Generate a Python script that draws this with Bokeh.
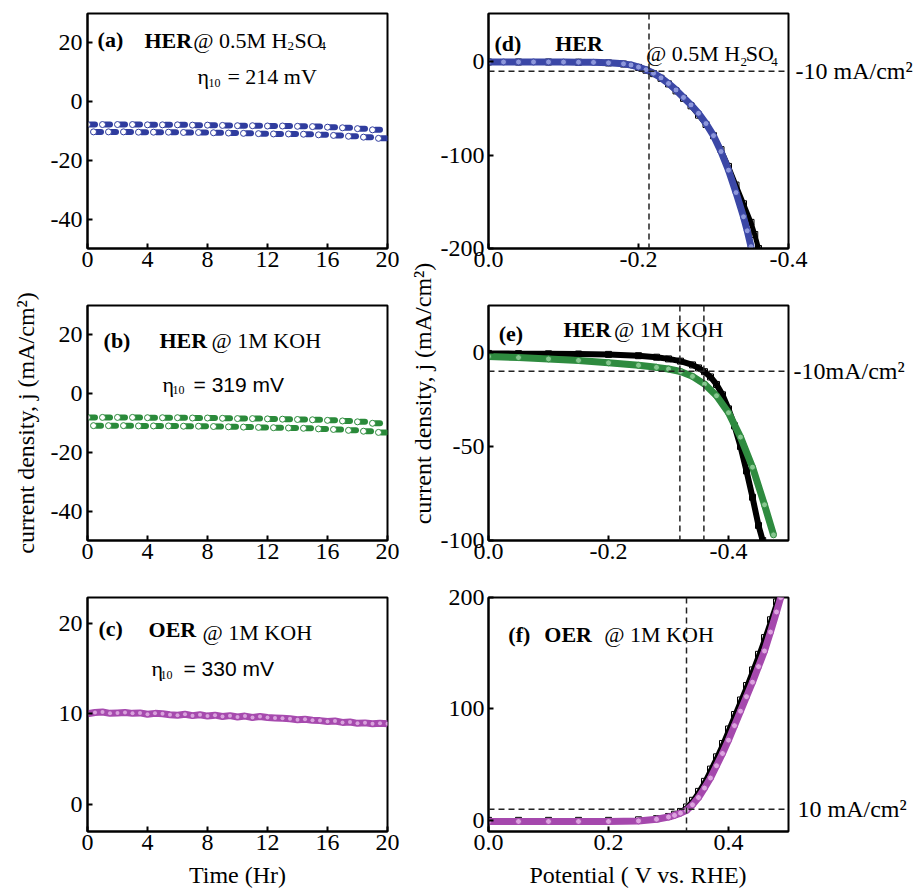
from bokeh.plotting import figure
from bokeh.models import Range1d, FixedTicker, Label, Span, LinearAxis
from bokeh.layouts import row, column
from bokeh.embed import file_html
from bokeh.resources import INLINE

SERIF = "Liberation Serif"
SANS = "Liberation Sans"

# ---------------- data ----------------
# (a) HER @ 0.5M H2SO4 chronoamperometry (two staggered rows of dashes)
A_UP_T = [0, 1, 2, 3, 4, 5, 6, 7, 8, 9, 10, 11, 12, 13, 14, 15, 16, 17, 18, 19]
A_UP_J = [-7.8, -7.8, -7.8, -7.8, -7.9, -7.9, -7.9, -8.0, -8.0, -8.1, -8.2, -8.2, -8.3, -8.3, -8.4, -8.5, -8.7, -8.9, -9.2, -9.6]
A_LO_T = [0.4, 1.4, 2.4, 3.4, 4.4, 5.4, 6.4, 7.4, 8.4, 9.4, 10.4, 11.4, 12.4, 13.4, 14.4, 15.4, 16.4, 17.4, 18.4, 19.4]
A_LO_J = [-10.3, -10.3, -10.3, -10.4, -10.4, -10.4, -10.5, -10.5, -10.6, -10.7, -10.8, -10.9, -11.0, -11.0, -11.1, -11.3, -11.5, -11.8, -12.1, -12.5]

# (b) HER @ 1M KOH
B_UP_T = A_UP_T
B_UP_J = [-8.1, -8.1, -8.1, -8.1, -8.2, -8.2, -8.2, -8.3, -8.3, -8.4, -8.5, -8.5, -8.6, -8.7, -8.8, -8.9, -9.1, -9.3, -9.6, -10.1]
B_LO_T = A_LO_T
B_LO_J = [-10.9, -10.9, -10.9, -11.0, -11.0, -11.0, -11.1, -11.1, -11.2, -11.3, -11.4, -11.5, -11.6, -11.7, -11.8, -12.0, -12.2, -12.5, -12.8, -13.2]

# (c) OER @ 1M KOH
C_T = [0, 0.5, 1, 1.5, 2, 2.5, 3, 3.5, 4, 4.5, 5, 5.5, 6, 6.5, 7, 7.5, 8, 8.5, 9, 9.5, 10,
       10.5, 11, 11.5, 12, 12.5, 13, 13.5, 14, 14.5, 15, 15.5, 16, 16.5, 17, 17.5, 18, 18.5, 19, 19.5, 20]
C_J = [10.0, 10.15, 10.2, 10.05, 10.1, 10.15, 10.05, 10.1, 9.95, 10.05, 10.0, 9.9, 9.85, 9.95, 9.8, 9.9, 9.75, 9.85, 9.7, 9.8, 9.65,
       9.75, 9.6, 9.7, 9.6, 9.55, 9.5, 9.45, 9.35, 9.4, 9.3, 9.25, 9.15, 9.2, 9.05, 9.1, 8.95, 9.0, 8.9, 8.95, 8.9]

# (d) HER polarization in 0.5M H2SO4
D_BLUE_V = [0.0, -0.02, -0.04, -0.06, -0.08, -0.10, -0.12, -0.14, -0.16, -0.18, -0.19, -0.20, -0.21, -0.22, -0.23,
            -0.24, -0.25, -0.26, -0.27, -0.28, -0.29, -0.30, -0.31, -0.32, -0.33, -0.34, -0.345, -0.35]
D_BLUE_J = [0.0, 0.0, 0.0, 0.0, 0.0, -0.1, -0.2, -0.4, -0.9, -2.0, -3.2, -5.5, -8.3, -12, -17,
            -23, -30, -38, -46, -55, -66, -79, -96, -116, -140, -166, -181, -198]
D_BLACK_V = [0.0, -0.04, -0.08, -0.12, -0.16, -0.18, -0.20, -0.21, -0.22, -0.23, -0.24, -0.25, -0.26, -0.27,
             -0.28, -0.29, -0.30, -0.31, -0.32, -0.33, -0.34, -0.35, -0.355, -0.36]
D_BLACK_J = [0.0, 0.0, 0.0, -0.2, -1.0, -2.2, -5.8, -8.8, -12.5, -17.5, -23.5, -31, -39, -47,
             -57, -67, -79, -94, -112, -132, -152, -172, -185, -200]

# (e) HER polarization in 1M KOH
E_BLACK_V = [0.0, -0.05, -0.10, -0.15, -0.20, -0.25, -0.28, -0.30, -0.32, -0.34, -0.35, -0.36, -0.37, -0.38,
             -0.39, -0.40, -0.41, -0.42, -0.43, -0.44, -0.45, -0.457]
E_BLACK_J = [-0.5, -0.6, -0.7, -0.8, -1.0, -1.7, -2.5, -3.4, -4.6, -6.6, -8.2, -10.2, -13.0, -17.0,
             -22.5, -30, -39, -50, -63, -77, -92, -100]
E_GREEN_V = [0.0, -0.05, -0.10, -0.15, -0.20, -0.25, -0.28, -0.30, -0.32, -0.34, -0.36, -0.38, -0.40,
             -0.42, -0.44, -0.46, -0.475]
E_GREEN_J = [-2.1, -2.7, -3.4, -4.2, -5.5, -6.8, -7.9, -8.8, -10.1, -12.7, -16.8, -23.0, -32.0,
             -45.0, -61.0, -81.0, -97.0]

# (f) OER polarization in 1M KOH
F_BLACK_V = [0.0, 0.05, 0.10, 0.15, 0.20, 0.25, 0.28, 0.30, 0.31, 0.32, 0.33, 0.34, 0.35, 0.36, 0.37, 0.38,
             0.39, 0.40, 0.41, 0.42, 0.43, 0.44, 0.45, 0.46, 0.47, 0.48, 0.483]
F_BLACK_J = [0, 0, 0, 0, 0, 0.5, 1.5, 3.5, 5.5, 8, 12, 18, 26, 35, 46, 57,
             69, 82, 95, 108, 121, 135, 149, 164, 180, 196, 200]
F_PURPLE_V = [0.0, 0.05, 0.10, 0.15, 0.20, 0.25, 0.28, 0.30, 0.31, 0.32, 0.33, 0.34, 0.35, 0.36, 0.37, 0.38,
              0.39, 0.40, 0.41, 0.42, 0.43, 0.44, 0.45, 0.46, 0.47, 0.48, 0.487]
F_PURPLE_J = [-1, -1, -1, -1, -1, -0.5, 1, 3, 4.5, 6.5, 9, 14, 20.5, 29, 38, 49,
              60, 72, 85, 98, 111, 124, 138, 152, 169, 187, 200]

# reference lines and their side labels
D_VLINES = [-0.214]
E_VLINES = [-0.319, -0.359]
F_VLINES = [0.33]
D_HLINE, E_HLINE, F_HLINE = -10, -10, 10
D_HLABEL, E_HLABEL, F_HLABEL = "-10 mA/cm²", "-10mA/cm²", "10 mA/cm²"

# axis ticks and tick labels
T_TICKS = [0, 4, 8, 12, 16, 20]
T_LABELS = ["0", "4", "8", "12", "16", "20"]
AB_YTICKS = [20, 0, -20, -40]
AB_YLABELS = ["20", "0", "-20", "-40"]
C_YTICKS = [0, 10, 20]
C_YLABELS = ["0", "10", "20"]
D_XTICKS = [0.0, -0.2, -0.4]
D_XLABELS = ["0.0", "-0.2", "-0.4"]
D_YTICKS = [0, -100, -200]
D_YLABELS = ["0", "-100", "-200"]
E_XTICKS = [0.0, -0.2, -0.4]
E_XLABELS = ["0.0", "-0.2", "-0.4"]
E_YTICKS = [0, -50, -100]
E_YLABELS = ["0", "-50", "-100"]
F_XTICKS = [0.0, 0.2, 0.4]
F_XLABELS = ["0.0", "0.2", "0.4"]
F_YTICKS = [0, 100, 200]
F_YLABELS = ["0", "100", "200"]

Y_TITLE = "current density, j (mA/cm²)"
T_TITLE = "Time (Hr)"
V_TITLE = "Potential ( V vs. RHE)"

# ---------------- styling helpers ----------------
BLUE = "#2F3C9E"
GREEN = "#2A8A3A"
PURPLE = "#A64AAE"


def make_fig(width, height, bl, br, bt, bb, xr, yr, xticks, xlabels, yticks, ylabels, ystand=5):
    p = figure(width=width, height=height, x_range=Range1d(*xr), y_range=Range1d(*yr),
               toolbar_location=None, output_backend="svg",
               min_border_left=bl, min_border_right=br, min_border_top=bt, min_border_bottom=bb)
    p.grid.visible = False
    p.outline_line_color = "black"
    p.outline_line_width = 2
    for ax in (p.xaxis[0], p.yaxis[0]):
        ax.axis_line_width = 2
        ax.axis_line_color = "black"
        ax.major_tick_in = 5
        ax.major_tick_out = 0
        ax.major_tick_line_width = 2
        ax.minor_tick_line_color = None
        ax.major_label_text_font = SERIF
        ax.major_label_text_font_size = "24px"
        ax.major_label_text_color = "black"
    p.xaxis[0].ticker = FixedTicker(ticks=xticks)
    p.yaxis[0].ticker = FixedTicker(ticks=yticks)
    p.xaxis[0].major_label_overrides = {t: s for t, s in zip(xticks, xlabels)}
    p.yaxis[0].major_label_overrides = {t: s for t, s in zip(yticks, ylabels)}
    p.xaxis[0].major_label_standoff = 3
    p.yaxis[0].major_label_standoff = ystand
    return p


def axis_title(ax, s, standoff):
    ax.axis_label = s
    ax.axis_label_text_font = SERIF
    ax.axis_label_text_font_size = "24px"
    ax.axis_label_text_font_style = "normal"
    ax.axis_label_text_color = "black"
    ax.axis_label_standoff = standoff


def side_label(p, loc, s, standoff):
    ax = LinearAxis(ticker=FixedTicker(ticks=[loc]), major_label_overrides={loc: s})
    ax.axis_line_color = None
    ax.major_tick_line_color = None
    ax.minor_tick_line_color = None
    ax.major_tick_in = 0
    ax.major_tick_out = 0
    ax.major_label_standoff = standoff
    ax.major_label_text_font = SERIF
    ax.major_label_text_font_size = "24px"
    ax.major_label_text_color = "black"
    p.add_layout(ax, "right")


def txt(p, x, y, s, size, bold=False, font=SERIF):
    p.add_layout(Label(x=x, y=y, text=s, text_font=font, text_font_size=f"{size}px",
                       text_font_style="bold" if bold else "normal", text_color="black",
                       text_baseline="alphabetic", text_align="left"))


def dashes(p, ts, js, color):
    p.segment(x0=[t + 0.2 for t in ts], y0=js, x1=[t + 0.5 for t in ts], y1=js,
              line_color=color, line_width=6, line_cap="round")
    p.scatter(ts, js, marker="circle", size=6, fill_color="white", line_color=color, line_width=1)


def curve(p, xs, ys, color, fill, marker, lw=7, open_marker=False):
    p.line(xs, ys, line_color=color, line_width=lw, line_join="round")
    p.scatter(xs, ys, marker=marker, size=6, fill_color=fill, fill_alpha=0 if open_marker else 1,
              line_color=color, line_width=1)


def vspan(p, loc):
    p.add_layout(Span(location=loc, dimension="height", line_color="#222222",
                      line_width=1.5, line_dash="6 4"))


def hspan(p, loc):
    p.add_layout(Span(location=loc, dimension="width", line_color="#222222",
                      line_width=1.5, line_dash="6 4"))


# ---------------- left column ----------------
LW, LBL, LBR = 405, 87, 18
pa = make_fig(LW, 280, LBL, LBR, 13, 32, (0, 20), (-50, 30), T_TICKS, T_LABELS, AB_YTICKS, AB_YLABELS)
dashes(pa, A_UP_T, A_UP_J, BLUE)
dashes(pa, A_LO_T, A_LO_J, BLUE)
txt(pa, 0.67, 21.15, "(a)", 22, bold=True)
txt(pa, 3.8, 20.8, "HER", 22, bold=True)
txt(pa, 7.05, 20.8, "@ 0.5M H", 22)
txt(pa, 13.33, 19.1, "2", 13)
txt(pa, 13.8, 20.8, "SO", 22)
txt(pa, 15.47, 19.1, "4", 13)
txt(pa, 7.33, 8.55, "η", 22)
txt(pa, 8.07, 6.2, "10", 12)
txt(pa, 9.33, 8.55, "= 214 mV", 22)

pb = make_fig(LW, 292, LBL, LBR, 25, 32, (0, 20), (-50, 30), T_TICKS, T_LABELS, AB_YTICKS, AB_YLABELS)
dashes(pb, B_UP_T, B_UP_J, GREEN)
dashes(pb, B_LO_T, B_LO_J, GREEN)
txt(pb, 1.07, 18.1, "(b)", 22, bold=True)
txt(pb, 4.8, 18.1, "HER", 22, bold=True)
txt(pb, 8.27, 18.1, "@ 1M KOH", 22)
txt(pb, 5.0, 3.1, "η", 22)
txt(pb, 5.67, 1.1, "10", 12)
txt(pb, 7.07, 3.1, "= 319 mV", 21, font=SANS)
axis_title(pb.yaxis[0], Y_TITLE, 9)

pc = make_fig(LW, 318, LBL, LBR, 25, 58, (0, 20), (-3, 22.85), T_TICKS, T_LABELS, C_YTICKS, C_YLABELS)
pc.line(C_T, C_J, line_color=PURPLE, line_width=7)
pc.scatter(C_T, C_J, marker="circle", size=4, fill_color="#D9A2DD", line_color=None)
txt(pc, 0.73, 19.44, "(c)", 22, bold=True)
txt(pc, 4.07, 19.33, "OER", 22, bold=True)
txt(pc, 7.67, 19.0, "@ 1M KOH", 22)
txt(pc, 4.27, 15.04, "η", 22)
txt(pc, 4.87, 14.27, "10", 12)
txt(pc, 6.4, 15.04, "= 330 mV", 21, font=SANS)
axis_title(pc.xaxis[0], T_TITLE, 9)

# ---------------- right column ----------------
RW, RBL, RBR = 479, 50, 128
pd_ = make_fig(RW, 280, RBL, RBR, 13, 32, (0, -0.4), (-200, 52), D_XTICKS, D_XLABELS, D_YTICKS, D_YLABELS, 4)
curve(pd_, D_BLACK_V, D_BLACK_J, "black", "white", "square", lw=5, open_marker=True)
curve(pd_, D_BLUE_V, D_BLUE_J, "#3B47A6", "#8D97DB", "circle")
for v in D_VLINES:
    vspan(pd_, v)
hspan(pd_, D_HLINE)
side_label(pd_, D_HLINE, D_HLABEL, 7)
txt(pd_, -0.008, 19.8, "(d)", 22, bold=True)
txt(pd_, -0.089, 19.8, "HER", 22, bold=True)
txt(pd_, -0.21, 9.1, "@ 0.5M H", 22)
txt(pd_, -0.336, -0.5, "2", 13)
txt(pd_, -0.343, 9.1, "SO", 22)
txt(pd_, -0.377, -0.5, "4", 13)

pe = make_fig(RW, 292, RBL, RBR, 25, 32, (0, -0.5), (-100, 25), E_XTICKS, E_XLABELS, E_YTICKS, E_YLABELS, 4)
curve(pe, E_BLACK_V, E_BLACK_J, "black", "white", "square", lw=6, open_marker=True)
curve(pe, E_GREEN_V, E_GREEN_J, "#2E8B3F", "#86C78F", "circle")
for v in E_VLINES:
    vspan(pe, v)
hspan(pe, E_HLINE)
side_label(pe, E_HLINE, E_HLABEL, 5)
txt(pe, -0.017, 10.1, "(e)", 22, bold=True)
txt(pe, -0.125, 12.2, "HER", 22, bold=True)
txt(pe, -0.209, 12.2, "@ 1M KOH", 22)

pf = make_fig(RW, 318, RBL, RBR, 25, 58, (0, 0.5), (-10, 200), F_XTICKS, F_XLABELS, F_YTICKS, F_YLABELS, 4)
curve(pf, F_BLACK_V, F_BLACK_J, "black", "white", "square", lw=4, open_marker=True)
curve(pf, F_PURPLE_V, F_PURPLE_J, "#A548AD", "#DDA3E0", "circle")
for v in F_VLINES:
    vspan(pf, v)
hspan(pf, F_HLINE)
side_label(pf, F_HLINE, F_HLABEL, 9)
txt(pf, 0.033, 166.9, "(f)", 22, bold=True)
txt(pf, 0.093, 166.9, "OER", 22, bold=True)
txt(pf, 0.193, 166.9, "@ 1M KOH", 22)
axis_title(pf.xaxis[0], V_TITLE, 9)


# ---------------- y-title strip between the columns (axis label of an empty, thin frame) ----------------
H = 890


def strip(width, left, top, bottom, s):
    p = figure(width=width, height=H, x_range=Range1d(0, 1), y_range=Range1d(0, 1),
               toolbar_location=None, output_backend="svg",
               min_border_left=left, min_border_right=0, min_border_top=top, min_border_bottom=bottom,
               x_axis_location=None, y_axis_location="left")
    p.outline_line_color = None
    p.grid.visible = False
    ax = p.yaxis[0]
    ax.ticker = FixedTicker(ticks=[])
    ax.axis_line_color = None
    ax.major_tick_line_color = None
    ax.minor_tick_line_color = None
    ax.major_tick_in = 0
    ax.major_tick_out = 0
    ax.major_label_standoff = 0
    axis_title(ax, s, 0)
    return p


sM = strip(32, 30, 0, 104, Y_TITLE)    # frame centre at y = 393

layout = row(column(pa, pb, pc), sM, column(pd_, pe, pf))
open("out.html", "w").write(file_html(layout, INLINE))
